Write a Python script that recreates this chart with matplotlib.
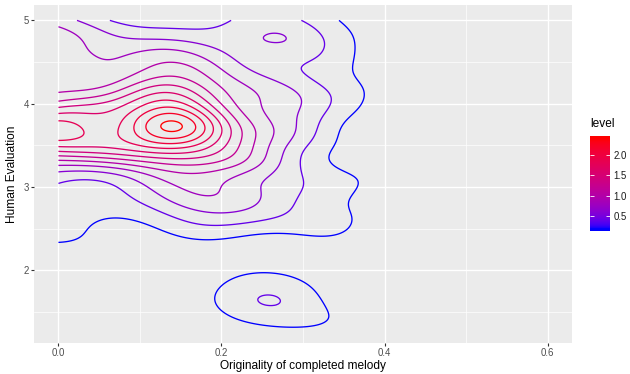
import numpy as np
import matplotlib
matplotlib.use("Agg")
import matplotlib.pyplot as plt
from matplotlib.colors import ListedColormap, Normalize

# ---------------------------------------------------------------
# Data: points where each density contour
# ("level") crosses, plus a few density spot values (peaks, lows).
# ---------------------------------------------------------------
levels = [0.2, 0.4, 0.6, 0.8, 1.0, 1.2, 1.4, 1.6, 1.8, 2.0, 2.2, 2.4]
colorbar_ticks = [0.5, 1.0, 1.5, 2.0]

level_0_2 = [(0,2.34),(0.031,2.40),(0.068,2.64),(0.092,2.60),(0.13,2.48),(0.174,2.37),(0.215,2.40),(0.256,2.46),(0.29,2.42),(0.32,2.40),(0.353,2.52),(0.362,2.64),(0.36,2.9),(0.355,3.17),(0.341,3.57),(0.357,3.83),(0.372,4.09),(0.36,4.45),(0.362,4.81),(0.341,5.0),
             (0.194,1.72),(0.215,1.90),(0.255,1.97),(0.296,1.88),(0.32,1.64),(0.331,1.46),(0.325,1.36),(0.275,1.32),(0.222,1.40),(0.198,1.56)]
level_0_4 = [(0,3.05),(0.043,3.09),(0.076,2.97),(0.105,2.78),(0.142,2.62),(0.195,2.53),(0.256,2.60),(0.285,2.76),(0.293,2.88),(0.295,3.25),(0.298,3.41),(0.317,3.73),(0.337,4.08),(0.313,4.5),(0.323,4.77),(0.298,5.0),
             (0.059,5.0),(0.10,4.92),(0.157,4.88),(0.19,4.92),(0.214,5.0),
             (0.247,1.64),(0.26,1.71),(0.272,1.64),(0.26,1.57)]
level_0_6 = [(0,3.18),(0.05,3.17),(0.093,3.09),(0.133,2.87),(0.174,2.73),(0.223,2.71),(0.252,2.93),(0.272,3.24),(0.289,3.57),(0.296,4.03),(0.29,4.15),(0.27,4.22),(0.235,4.35),(0.214,4.53),(0.19,4.65),(0.157,4.75),(0.124,4.78),(0.075,4.78),(0.05,4.87),(0.022,5.0),
             (0.251,4.80),(0.26,4.85),(0.27,4.80),(0.26,4.76)]
level_0_8 = [(0,4.90),(0.018,4.87),(0.034,4.77),(0.047,4.53),(0.057,4.49),(0.092,4.61),(0.124,4.66),(0.157,4.63),(0.194,4.49),(0.222,4.33),(0.247,4.21),(0.255,3.97),(0.262,3.75),(0.256,3.56),(0.248,3.44),(0.231,3.2),(0.207,3.08),(0.19,2.88),(0.174,2.85),(0.133,3.05),(0.05,3.25),(0,3.26)]
level_1_0 = [(0,4.13),(0.07,4.23),(0.14,4.51),(0.174,4.33),(0.198,4.19),(0.227,3.87),(0.247,3.59),(0.243,3.35),(0.2,3.2),(0.14,3.18),(0.07,3.29),(0,3.32)]
level_1_2 = [(0,4.03),(0.07,4.15),(0.14,4.35),(0.18,4.15),(0.21,3.9),(0.226,3.65),(0.22,3.42),(0.19,3.3),(0.14,3.27),(0.07,3.34),(0,3.37)]
level_1_4 = [(0,3.95),(0.07,4.06),(0.14,4.23),(0.18,4.03),(0.212,3.65),(0.2,3.45),(0.14,3.34),(0.07,3.39),(0,3.43)]
level_1_6 = [(0,3.88),(0.055,3.93),(0.1,4.02),(0.14,4.14),(0.175,3.95),(0.20,3.65),(0.185,3.48),(0.14,3.40),(0.07,3.45),(0,3.49)]
level_1_8 = [(0,3.79),(0.031,3.75),(0.034,3.67),(0.027,3.59),(0,3.55),
             (0.081,3.72),(0.1,3.95),(0.14,4.06),(0.18,3.85),(0.19,3.65),(0.17,3.5),(0.14,3.46),(0.1,3.5)]
level_2_0 = [(0.096,3.72),(0.14,3.98),(0.177,3.72),(0.14,3.52),(0.11,3.88),(0.17,3.85),(0.165,3.58),(0.11,3.57)]
level_2_2 = [(0.108,3.72),(0.137,3.90),(0.164,3.72),(0.137,3.58)]
level_2_4 = [(0.127,3.72),(0.137,3.79),(0.147,3.72),(0.137,3.65)]
level_points = [level_0_2, level_0_4, level_0_6, level_0_8, level_1_0, level_1_2,
                level_1_4, level_1_6, level_1_8, level_2_0, level_2_2, level_2_4]

# spot values (x, y, density) between the contours
spot_values = [(0.137,3.72,2.5),(0,3.67,1.92),(0.055,3.71,1.72),(0.26,4.8,0.66),(0.26,1.64,0.43),
               (0,4.5,0.9),(0,4.3,0.95),(0,4.7,0.86),(0.02,4.6,0.85),(0,5.0,0.72),(0.03,4.45,0.9),(0.1,4.45,0.92),
               (0.1,5.0,0.33),(0.14,5.0,0.33),(0.26,5.0,0.5),(0.24,4.9,0.5),(0.28,4.6,0.5),
               (0.1,4.85,0.5),(0.18,4.8,0.5),(0.1,4.7,0.7),(0.18,4.6,0.7),(0.035,4.9,0.7),
               (0.33,3.0,0.3),(0.31,2.6,0.3),(0.2,2.45,0.3),(0.05,2.8,0.3),(0.337,4.5,0.3),(0.325,3.6,0.3),(0.355,4.1,0.3),(0.342,4.8,0.3),(0.1,2.7,0.3),(0.02,2.7,0.3),
               (0.0,3.12,0.5),(0.1,2.95,0.5),(0.2,2.62,0.5),(0.27,2.9,0.5),(0.275,3.0,0.5),(0.296,3.5,0.5),(0.315,4.0,0.5),
               (0.15,2.88,0.7),(0.22,2.95,0.7),(0.277,3.8,0.7),(0.273,4.1,0.7),(0.258,3.3,0.7),
               (0.05,2.1,0.1),(0.13,2.15,0.1),(0.2,2.15,0.12),(0.26,2.18,0.12),(0.33,2.2,0.12),
               (0.0,1.9,0.08),(0.0,1.4,0.03),(0.1,1.4,0.05),(0.1,1.8,0.07),(0.15,1.6,0.1),
               (0.38,1.6,0.1),(0.38,2.1,0.1),(0.4,2.8,0.1),(0.4,3.5,0.1),(0.4,4.2,0.1),(0.4,5.0,0.1),
               (0.45,1.4,0.02),(0.45,2.6,0.02),(0.45,3.8,0.02),(0.45,5.0,0.02),
               (0.52,1.4,0.0),(0.52,2.6,0.0),(0.52,3.8,0.0),(0.52,5.0,0.0),
               (0.6,1.4,0.0),(0.6,2.6,0.0),(0.6,3.8,0.0),(0.6,5.0,0.0)]

data_x_range = (0.0, 0.6)
data_y_range = (1.31, 5.0)

# ---------------------------------------------------------------
# Smooth density surface through the read contour points
# ---------------------------------------------------------------
px, py, pv, pw = [], [], [], []
for lv, pts in zip(levels, level_points):
    for a, b in pts:
        px.append(a); py.append(b); pv.append(lv); pw.append(1.0)
for a, b, v in spot_values:
    px.append(a); py.append(b); pv.append(v); pw.append(5.0 if v > 1.5 else 1.0)
px, py, pv, pw = map(np.array, (px, py, pv, pw))

sx, sy, lam_s, lam_r = 0.035, 0.11, 0.3, 1e-4
cx = np.arange(-0.08, 0.5, sx * 0.8)
cy = np.arange(0.95, 5.45, sy * 0.8)
ex = np.exp(-0.5 * ((px[:, None] - cx[None, :]) / sx) ** 2)
ey = np.exp(-0.5 * ((py[:, None] - cy[None, :]) / sy) ** 2)
A = (ey[:, :, None] * ex[:, None, :]).reshape(len(px), -1)
ny, nx = len(cy), len(cx)
K = ny * nx
idx = np.arange(K).reshape(ny, nx)
rows = []
for j in range(ny):
    for i in range(1, nx - 1):
        r = np.zeros(K); r[idx[j, i - 1]] = 1; r[idx[j, i]] = -2; r[idx[j, i + 1]] = 1; rows.append(r)
for i in range(nx):
    for j in range(1, ny - 1):
        r = np.zeros(K); r[idx[j - 1, i]] = 1; r[idx[j, i]] = -2; r[idx[j + 1, i]] = 1; rows.append(r)
D = np.array(rows)
M = A.T @ (A * pw[:, None]) + lam_s * D.T @ D + lam_r * np.eye(K)
w = np.linalg.solve(M, A.T @ (pv * pw)).reshape(ny, nx)
gx = np.linspace(*data_x_range, 300)
gy = np.linspace(*data_y_range, 300)
Ex = np.exp(-0.5 * ((gx[:, None] - cx[None, :]) / sx) ** 2)
Ey = np.exp(-0.5 * ((gy[:, None] - cy[None, :]) / sy) ** 2)
Z = Ey @ w @ Ex.T

# ---------------------------------------------------------------
# blue -> red gradient interpolated in CIELAB (as ggplot does)
# ---------------------------------------------------------------
_M = np.array([[0.4124564, 0.3575761, 0.1804375],
               [0.2126729, 0.7151522, 0.0721750],
               [0.0193339, 0.1191920, 0.9503041]])
_W = np.array([0.95047, 1.0, 1.08883])

def srgb_to_lab(c):
    c = np.asarray(c, float)
    lin = np.where(c <= 0.04045, c / 12.92, ((c + 0.055) / 1.055) ** 2.4)
    xyz = lin @ _M.T / _W
    f = np.where(xyz > 0.008856, np.cbrt(xyz), 7.787 * xyz + 16 / 116)
    return np.stack([116 * f[..., 1] - 16, 500 * (f[..., 0] - f[..., 1]), 200 * (f[..., 1] - f[..., 2])], -1)

def lab_to_srgb(lab):
    fy = (lab[..., 0] + 16) / 116
    f = np.stack([fy + lab[..., 1] / 500, fy, fy - lab[..., 2] / 200], -1)
    xyz = np.where(f ** 3 > 0.008856, f ** 3, (f - 16 / 116) / 7.787) * _W
    lin = np.clip(xyz @ np.linalg.inv(_M).T, 0, 1)
    return np.clip(np.where(lin <= 0.0031308, 12.92 * lin, 1.055 * lin ** (1 / 2.4) - 0.055), 0, 1)

t = np.linspace(0, 1, 256)[:, None]
lab = (1 - t) * srgb_to_lab([0, 0, 1]) + t * srgb_to_lab([1, 0, 0])
cmap = ListedColormap(lab_to_srgb(lab))
norm = Normalize(min(levels), max(levels))

# ---------------------------------------------------------------
# Figure
# ---------------------------------------------------------------
plt.rcParams['font.family'] = ['Liberation Sans', 'DejaVu Sans']
W, H = 630, 374
fig = plt.figure(figsize=(W / 100, H / 100), dpi=100)
ax = fig.add_axes([34 / W, 31 / H, 538 / W, 338 / H])
ax.set_facecolor('#EBEBEB')
for s in ax.spines.values():
    s.set_visible(False)

ax.contour(gx, gy, Z, levels=levels, cmap=cmap, norm=norm, linewidths=0.95)

ax.set_xlim(-0.03, 0.63)
ax.set_ylim(1.1255, 5.1845)
ax.set_xticks([0.0, 0.2, 0.4, 0.6])
ax.set_xticklabels(['0.0', '0.2', '0.4', '0.6'])
ax.set_xticks([0.1, 0.3, 0.5], minor=True)
ax.set_yticks([2, 3, 4, 5])
ax.set_yticks([1.5, 2.5, 3.5, 4.5], minor=True)
ax.grid(which='major', color='white', linewidth=1.0)
ax.grid(which='minor', color='white', linewidth=0.5)
ax.set_axisbelow(True)
ax.tick_params(which='major', length=2.2, width=0.8, color='#333333', labelcolor='#4D4D4D', labelsize=6.9, pad=1.6)
ax.tick_params(which='minor', length=0)

ax.set_xlabel('Originality of completed melody', fontsize=8.6)
ax.set_ylabel('Human Evaluation', fontsize=8.6)
ax.xaxis.label.set_va('center')
ax.yaxis.label.set_va('center')
ax.xaxis.set_label_coords(0.5, (8 - 31) / 338)
ax.yaxis.set_label_coords((12 - 34) / 538, 0.5)

# colourbar legend (ggplot style, nbin = 20 half-bin padding)
lo, hi = min(levels), max(levels)
pad = (hi - lo) / 19 / 2
cax = fig.add_axes([590 / W, (H - 231) / H, 20 / W, 95 / H])
vals = np.linspace(lo - pad, hi + pad, 300)
cax.imshow(np.clip(vals, lo, hi)[:, None], cmap=cmap, norm=norm, aspect='auto',
           origin='lower', extent=(0, 1, lo - pad, hi + pad))
cax.set_xlim(0, 1)
cax.set_ylim(lo - pad, hi + pad)
cax.set_xticks([])
cax.set_yticks(colorbar_ticks)
cax.set_yticklabels(['0.5', '1.0', '1.5', '2.0'])
cax.yaxis.tick_right()
cax.tick_params(axis='y', direction='in', left=True, right=True, color='white', length=3.2,
                width=0.6, labelsize=6.9, labelcolor='#1A1A1A', pad=2.5)
for s in cax.spines.values():
    s.set_visible(False)
fig.text(590 / W, 1 - 124 / H, 'level', fontsize=8.6, va='center', ha='left')

fig.savefig('out.png', dpi=100)
